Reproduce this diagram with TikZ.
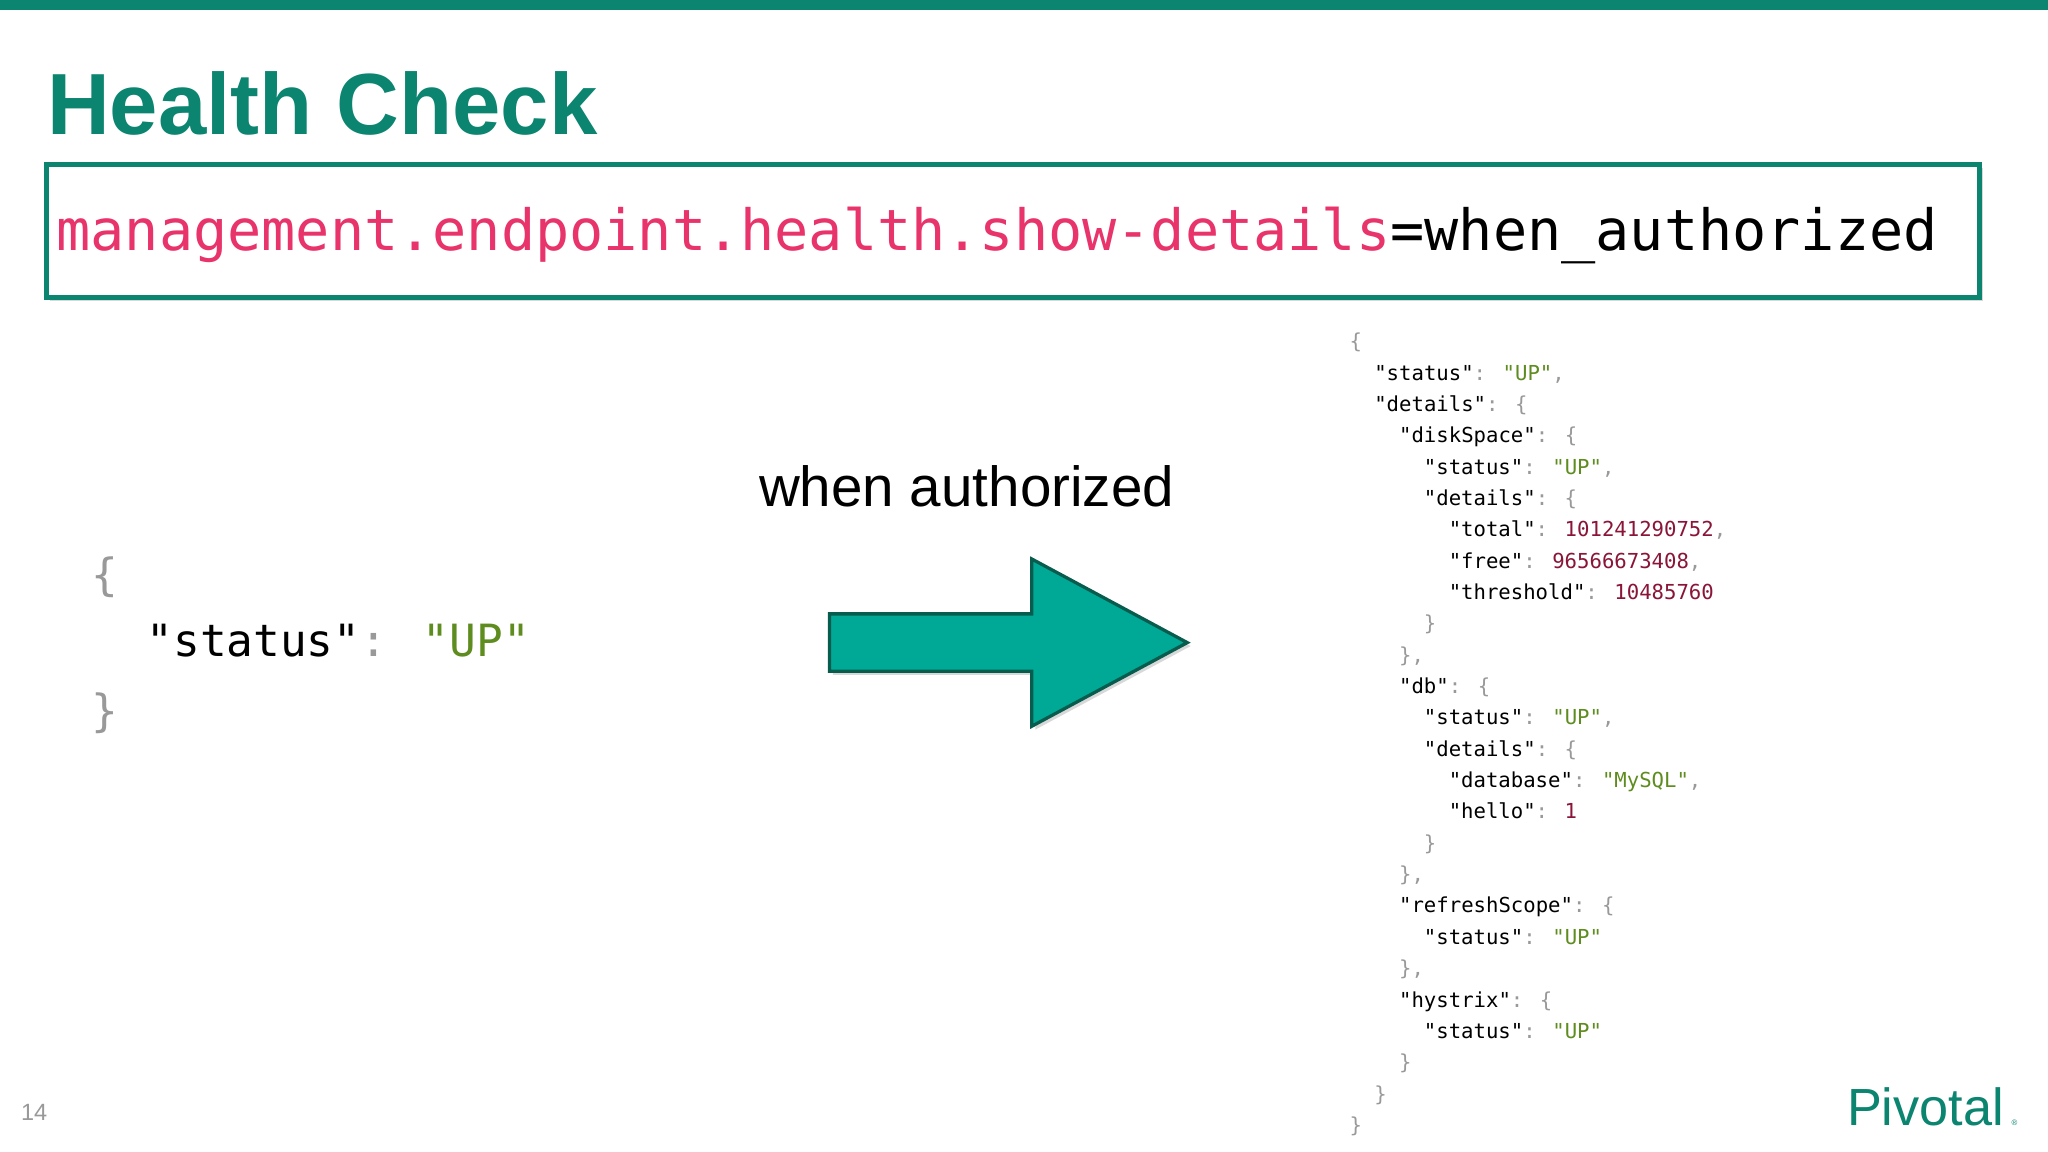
\documentclass[tikz,border=0pt]{standalone}
\usepackage{fontspec}
\setmainfont{Liberation Sans}
\newfontfamily\monof{DejaVu Sans Mono}
\usetikzlibrary{shadows}
\definecolor{teal1}{HTML}{0B8470}
\definecolor{tealfill}{HTML}{00A896}
\definecolor{pinkc}{HTML}{E8336B}
\definecolor{strc}{HTML}{5E8C1E}
\definecolor{numc}{HTML}{8A1538}
\definecolor{punc}{HTML}{999999}
\newcommand\jP[1]{\textcolor{punc}{#1}}
\newcommand\jS[1]{\textcolor{strc}{#1}}
\newcommand\jN[1]{\textcolor{numc}{#1}}
\tikzset{jt/.style={anchor=base west,inner sep=0pt,font=\monof\fontsize{15.8}{18}\selectfont}}
\begin{document}
\begin{tikzpicture}[x=1pt,y=-1pt]
\useasboundingbox (0,0) rectangle (1568,882);
\fill[white] (0,0) rectangle (1568,882);
\fill[teal1] (0,0) rectangle (1568,8);
\node[anchor=base west,inner sep=0pt,text=teal1,font=\bfseries\fontsize{66.5}{70}\selectfont] (title) at (36,103) {Health Check};
\node[draw=teal1,line width=3.5pt,fill=white,drop shadow={opacity=0.3},minimum width=1480pt,minimum height=102pt,anchor=north west,inner sep=0pt] (box) at (34,124) {};
\node[anchor=base west,inner sep=0pt,font=\monof\fontsize{43.5}{46}\selectfont] (prop) at (43,192) {\textcolor{pinkc}{management.endpoint.health.show-details}=when\_authorized};
\node[anchor=base west,inner sep=0pt,font=\monof\fontsize{34}{36}\selectfont,text=punc] (lb) at (70,452) {\{};
\node[anchor=base west,inner sep=0pt,font=\monof\fontsize{34}{36}\selectfont] (ls) at (112,503) {"status"\jP{:} \jS{"UP"}};
\node[anchor=base west,inner sep=0pt,font=\monof\fontsize{34}{36}\selectfont,text=punc] (le) at (70,556) {\}};
\node[anchor=base west,inner sep=0pt,font=\fontsize{43.3}{46}\selectfont] (wa) at (581,388) {when authorized};
\draw[draw=teal1!70!black,fill=tealfill,line width=2.5pt,drop shadow={opacity=0.3}] (635,470) -- (790,470) -- (790,428) -- (909,492) -- (790,556) -- (790,514) -- (635,514) -- cycle;
\node[jt] (r1) at (1033,267) {\jP{\{}};
\node[jt] (r2) at (1052,291) {"status"\jP{:} \jS{"UP"}\jP{,}};
\node[jt] (r3) at (1052,315) {"details"\jP{: \{}};
\node[jt] (r4) at (1071,339) {"diskSpace"\jP{: \{}};
\node[jt] (r5) at (1090,363) {"status"\jP{:} \jS{"UP"}\jP{,}};
\node[jt] (r6) at (1090,387) {"details"\jP{: \{}};
\node[jt] (r7) at (1109,411) {"total"\jP{:} \jN{101241290752}\jP{,}};
\node[jt] (r8) at (1109,435) {"free"\jP{:} \jN{96566673408}\jP{,}};
\node[jt] (r9) at (1109,459) {"threshold"\jP{:} \jN{10485760}};
\node[jt] (r10) at (1090,483) {\jP{\}}};
\node[jt] (r11) at (1071,507) {\jP{\},}};
\node[jt] (r12) at (1071,531) {"db"\jP{: \{}};
\node[jt] (r13) at (1090,555) {"status"\jP{:} \jS{"UP"}\jP{,}};
\node[jt] (r14) at (1090,579) {"details"\jP{: \{}};
\node[jt] (r15) at (1109,603) {"database"\jP{:} \jS{"MySQL"}\jP{,}};
\node[jt] (r16) at (1109,627) {"hello"\jP{:} \jN{1}};
\node[jt] (r17) at (1090,651) {\jP{\}}};
\node[jt] (r18) at (1071,675) {\jP{\},}};
\node[jt] (r19) at (1071,699) {"refreshScope"\jP{: \{}};
\node[jt] (r20) at (1090,723) {"status"\jP{:} \jS{"UP"}};
\node[jt] (r21) at (1071,747) {\jP{\},}};
\node[jt] (r22) at (1071,771) {"hystrix"\jP{: \{}};
\node[jt] (r23) at (1090,795) {"status"\jP{:} \jS{"UP"}};
\node[jt] (r24) at (1071,819) {\jP{\}}};
\node[jt] (r25) at (1052,843) {\jP{\}}};
\node[jt] (r26) at (1033,867) {\jP{\}}};
\node[anchor=base west,inner sep=0pt,text=punc,font=\fontsize{18}{20}\selectfont] (pg) at (16,858) {14};
\node[anchor=base west,inner sep=0pt,text=teal1,font=\fontsize{40}{42}\selectfont] (logo) at (1414,862) {Pivotal};
\node[anchor=base west,inner sep=0pt,text=teal1,font=\fontsize{6}{7}\selectfont] (reg) at (1540,862) {®};
\end{tikzpicture}
\end{document}
